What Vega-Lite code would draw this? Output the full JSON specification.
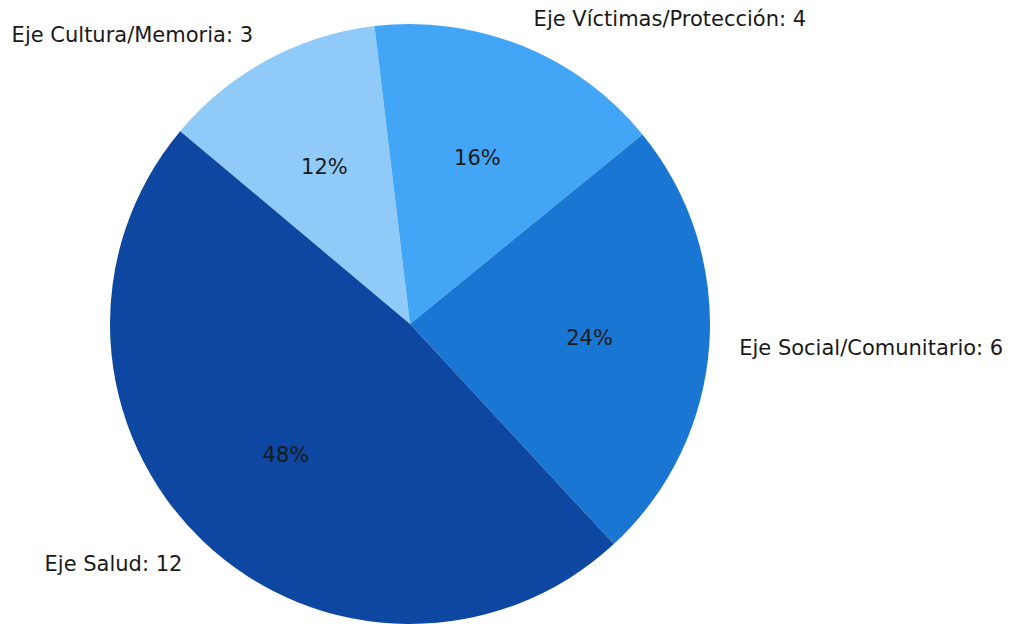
{
  "$schema": "https://vega.github.io/schema/vega-lite/v6.json",
  "autosize": {"type": "none"},
  "width": 820,
  "height": 600,
  "padding": {"left": 0, "top": 24, "right": 190, "bottom": 0},
  "background": "white",
  "config": {"view": {"stroke": null}},
  "data": {
    "values": [
      {"eje": "Eje Cultura/Memoria", "valor": 3, "pct": "12%", "orden": 1},
      {"eje": "Eje Víctimas/Protección", "valor": 4, "pct": "16%", "orden": 2},
      {"eje": "Eje Social/Comunitario", "valor": 6, "pct": "24%", "orden": 3},
      {"eje": "Eje Salud", "valor": 12, "pct": "48%", "orden": 4}
    ]
  },
  "encoding": {
    "theta": {"field": "valor", "type": "quantitative", "stack": true, "scale": {"range": [-0.87266, 5.41053]}},
    "order": {"field": "orden", "type": "quantitative", "sort": "ascending"}
  },
  "layer": [
    {
      "mark": {"type": "arc", "stroke": null},
      "encoding": {
        "color": {
          "field": "eje", "type": "nominal", "legend": null,
          "scale": {
            "domain": ["Eje Salud", "Eje Social/Comunitario", "Eje Víctimas/Protección", "Eje Cultura/Memoria"],
            "range": ["#0d47a1", "#1976d2", "#42a5f5", "#90caf9"]
          }
        }
      }
    },
    {
      "mark": {"type": "text", "radius": 180, "dy": 2, "font": "DejaVu Sans", "fontSize": 21, "fill": "#1a1a1a", "align": "center", "baseline": "middle"},
      "encoding": {"text": {"field": "pct", "type": "nominal"}}
    },
    {
      "transform": [{"calculate": "datum.eje + ': ' + datum.valor", "as": "etiqueta"}],
      "mark": {
        "type": "text", "radius": 330, "dy": 2, "font": "DejaVu Sans", "fontSize": 21, "fill": "#1a1a1a", "baseline": "middle",
        "align": {"expr": "datum.eje == 'Eje Salud' || datum.eje == 'Eje Cultura/Memoria' ? 'right' : 'left'"}
      },
      "encoding": {"text": {"field": "etiqueta", "type": "nominal"}}
    }
  ]
}
